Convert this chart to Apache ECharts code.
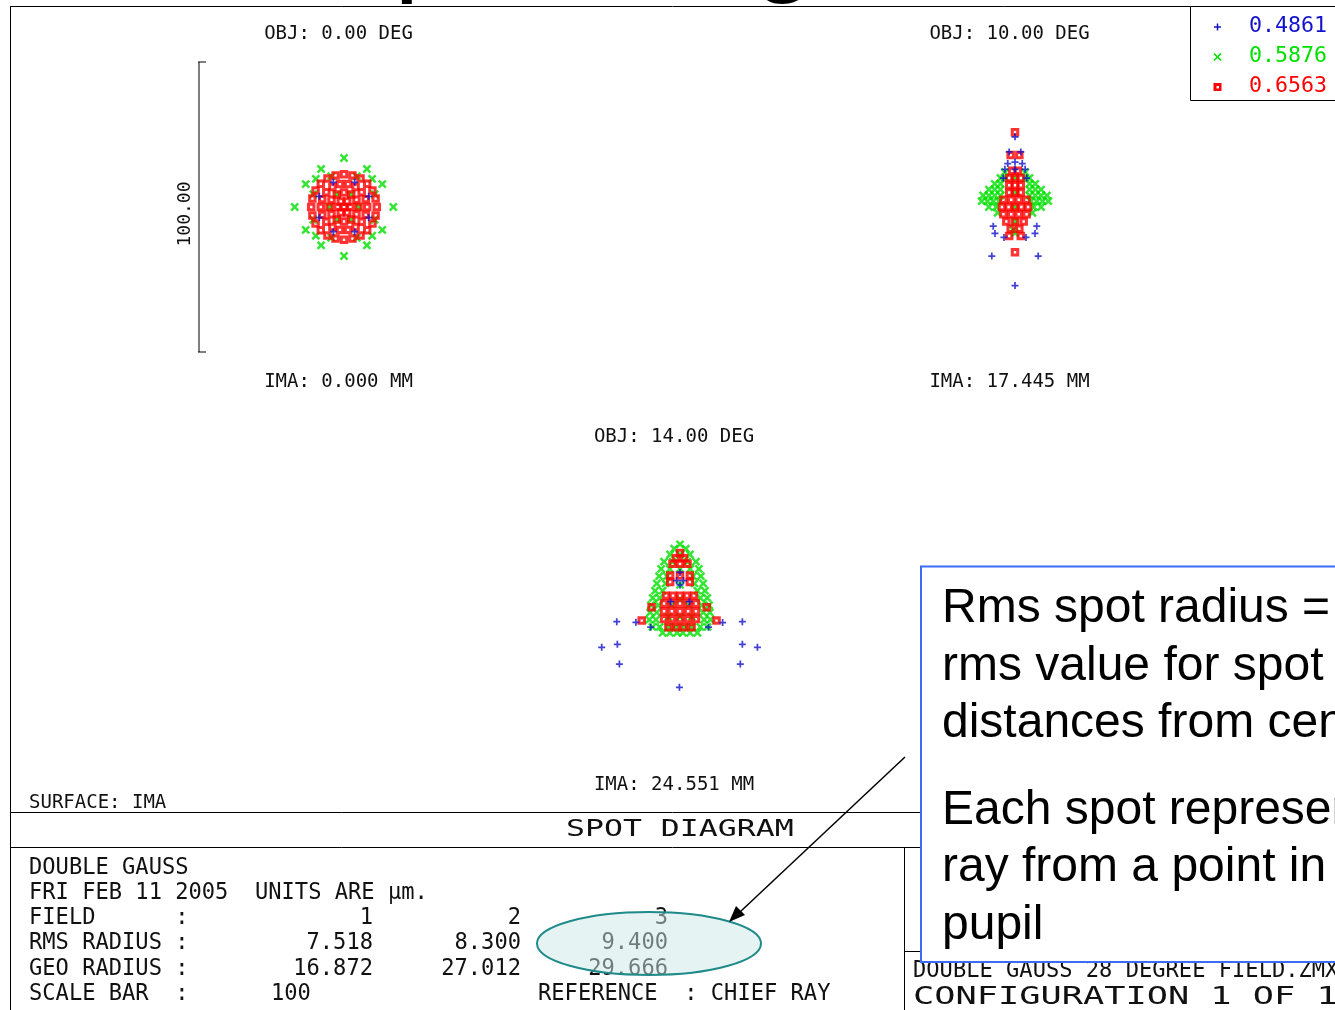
<!DOCTYPE html>
<html>
<head>
<meta charset="utf-8">
<script src="https://cdn.jsdelivr.net/npm/echarts@6/dist/echarts.min.js"></script>
<style>
html,body{margin:0;padding:0;background:#fff;}
#chart{width:1335px;height:1010px;}
</style>
</head>
<body>
<div id="chart"></div>
<script>
// ---------------- DATA (µm, relative to chief ray) ----------------
const objDeg = [0, 10, 14];
const imaMM = [0.000, 17.445, 24.551];
const fieldNo = [1, 2, 3];
const rmsRadius = [7.518, 8.300, 9.400];
const geoRadius = [16.872, 27.012, 29.666];
const wavelengths = [0.4861, 0.5876, 0.6563];
const scaleBarUm = 100;

// Field 1 (0 deg)
const f1Blue = [[8.5,3.7],[3.7,8.5],[-3.7,8.5],[-8.5,3.7],[-8.5,-3.7],[-3.7,-8.5],[3.7,-8.5],[8.5,-3.7]];
const f1Green = [[0,16.9],[0,-16.9],[-17,0],[17,0],[-7.9,13.1],[7.9,13.1],[-13.2,7.9],[13.2,7.9],
  [-13.2,-7.9],[13.2,-7.9],[-7.9,-13.2],[7.9,-13.2],[-9.7,9.7],[9.7,9.7],[-9.7,-9.9],[9.7,-9.9],
  [10.6,4.4],[4.4,10.6],[-4.4,10.6],[-10.6,4.4],[-10.6,-4.4],[-4.4,-10.6],[4.4,-10.6],[10.6,-4.4],
  [5,0],[2.5,4.3],[-2.5,4.3],[-5,0],[-2.5,-4.3],[2.5,-4.3]];
const f1Red = [[11.3,0],[10.9,2.9],[9.8,5.7],[8.0,8.0],[5.7,9.8],[2.9,10.9],[0,11.3],[-2.9,10.9],
  [-5.7,9.8],[-8.0,8.0],[-9.8,5.7],[-10.9,2.9],[-11.3,0],[-10.9,-2.9],[-9.8,-5.7],[-8.0,-8.0],
  [-5.7,-9.8],[-2.9,-10.9],[0,-11.3],[2.9,-10.9],[5.7,-9.8],[8.0,-8.0],[9.8,-5.7],[10.9,-2.9],
  [8,0],[7.5,2.7],[6.1,5.1],[4,6.9],[1.4,7.9],[-1.4,7.9],[-4,6.9],[-6.1,5.1],[-7.5,2.7],
  [-8,0],[-7.5,-2.7],[-6.1,-5.1],[-4,-6.9],[-1.4,-7.9],[1.4,-7.9],[4,-6.9],[6.1,-5.1],[7.5,-2.7],
  [5,0],[4.3,2.5],[2.5,4.3],[0,5],[-2.5,4.3],[-4.3,2.5],[-5,0],[-4.3,-2.5],[-2.5,-4.3],[0,-5],[2.5,-4.3],[4.3,-2.5],
  [2.2,0],[1.1,1.9],[-1.1,1.9],[-2.2,0],[-1.1,-1.9],[1.1,-1.9],[0,0]];

// Field 2 (10 deg)
const f2Blue = [[0,24.2],[-2,19],[2,19],[-2.5,15],[0,15.5],[2.5,15],[-3.5,13],[3.5,13],[0,13],[-4,10],[4,10],
  [-7.5,-6.6],[7.5,-6.6],[-6.9,-9.1],[6.9,-9.1],[-3.8,-10.5],[3.8,-10.5],[-8,-16.9],[8,-16.9],[0,-27.1]];
const f2Green = [[-3.5,12],[3.5,12],[-5,10],[-3.5,10],[3.5,10],[5,10],[-7,8],[-5,8],[5,8],[7,8],
  [-9,6],[-7,6],[-5,6],[5,6],[7,6],[9,6],[-11,4],[-9,4],[-7,4],[-5,4],[5,4],[7,4],[9,4],[11,4],
  [-11.5,2],[-9.5,2],[-7.5,2],[-5.5,2],[5.5,2],[7.5,2],[9.5,2],[11.5,2],[-9,0],[-6.5,0],[6.5,0],[9,0],
  [-6,-2],[6,-2],[0,10],[0,5],[0,0],[0,-5],[-0.6,-8],[0,-9]];
const f2Red = [[0,25.8],[-1.5,17.9],[1.5,17.9],[-1,12.5],[1,12.5],[-2,10],[0,10],[2,10],
  [-2,7.5],[0,7.5],[2,7.5],[-2,5],[0,5],[2,5],[-4,2.5],[-1.3,2.5],[1.3,2.5],[4,2.5],
  [-4.5,0],[-2.2,0],[0,0],[2.2,0],[4.5,0],[-4,-2.5],[-1.3,-2.5],[1.3,-2.5],[4,-2.5],
  [-3,-5],[0,-5],[3,-5],[-1.5,-7.5],[1.5,-7.5],[-2,-10],[2,-10],[0,-15.6]];

// Field 3 (14 deg)
const f3Blue = [[0,13.3],[-1.2,10.5],[1.2,10.5],[0,9],[-3.2,3.2],[3.2,3.2],[-10.1,-5.6],[9.8,-5.6],
  [-15.2,-3.9],[14.7,-4],[-21.8,-3.7],[21.5,-3.7],[-27,-12.5],[26.7,-12.5],[-21.6,-11.5],[21.5,-11.5],
  [-20.9,-18.3],[20.8,-18.3],[-0.2,-26.3]];
const f3Green = [[0,23],[-2,21.5],[2,21.5],[-3.4,19.5],[0,19.5],[3.4,19.5],[-5.5,17],[-2.5,17],[2.5,17],[5.5,17],
  [-6.5,14.5],[-3.5,14.5],[0,14.5],[3.5,14.5],[6.5,14.5],[-7.2,12],[-4.5,12],[4.5,12],[7.2,12],
  [-8,9.5],[-5,9.5],[5,9.5],[8,9.5],[-8.6,7],[-6,7],[6,7],[8.6,7],[-9.4,4.5],[-7,4.5],[7,4.5],[9.4,4.5],
  [-10,2],[-7.5,2],[7.5,2],[10,2],[-10.3,-0.5],[-8,-0.5],[8,-0.5],[10.3,-0.5],
  [-10.6,-3],[-8.3,-3],[8.3,-3],[10.5,-3],
  [-9.5,-5.5],[-7,-5.5],[-4,-5.5],[-1.5,-5.5],[1.5,-5.5],[4,-5.5],[7,-5.5],[9.5,-5.5],
  [-6,-7.5],[-3.5,-7.5],[-1,-7.5],[1,-7.5],[3.5,-7.5],[6,-7.5],
  [0,9],[0,4],[-3,2],[3,2],[0,-2],[-4,-2],[4,-2]];
const f3Red = [[0,20],[-1.4,18.2],[1.4,18.2],[-2.6,16.3],[0,16.3],[2.6,16.3],
  [-3.4,12.2],[0,12.2],[3.4,12.2],[-3.4,10],[3.4,10],
  [-4.8,5.3],[-2.4,5.3],[0,5.3],[2.4,5.3],[4.8,5.3],
  [-5.5,2.6],[-2.8,2.6],[0,2.6],[2.8,2.6],[5.5,2.6],
  [-5.5,-0.1],[-2.8,-0.1],[0,-0.1],[2.8,-0.1],[5.5,-0.1],
  [-5.5,-2.8],[-2.8,-2.8],[0,-2.8],[2.8,-2.8],[5.5,-2.8],
  [-4,-5.6],[-1.3,-5.6],[1.3,-5.6],[4,-5.6],
  [-9.8,1.3],[9.2,1.3],[-13.2,-3.3],[12.6,-3.3]];

const fieldBlue = [f1Blue, f2Blue, f3Blue];
const fieldGreen = [f1Green, f2Green, f3Green];
const fieldRed = [f1Red, f2Red, f3Red];

// ---------------- STYLE / LAYOUT ----------------
const BLUE = '#1212cc', GREEN = '#00e000', RED = '#ff0000';
const PLUS = 'path://M3,0H5V3H8V5H5V8H3V5H0V3H3Z';
const SQ = 'path://M0,0H10V10H0Z M3.6,3.6V6.4H6.4V3.6Z';
const MONO = '"DejaVu Sans Mono", "Liberation Mono", monospace';

const grids = [
  {left:199, top:62, width:290, height:290},
  {left:870, top:62, width:290, height:290},
  {left:535, top:466, width:290, height:290}
];

const series = [];
for (let i = 0; i < 3; i++) {
  series.push({type:'scatter', name:String(wavelengths[1]), xAxisIndex:i, yAxisIndex:i, data:fieldGreen[i],
    symbol:PLUS, symbolRotate:45, symbolSize:10, itemStyle:{color:GREEN}, silent:true, z:2});
  series.push({type:'scatter', name:String(wavelengths[2]), xAxisIndex:i, yAxisIndex:i, data:fieldRed[i],
    symbol:SQ, symbolSize:8.5, itemStyle:{color:RED}, silent:true, z:3});
  series.push({type:'scatter', name:String(wavelengths[0]), xAxisIndex:i, yAxisIndex:i, data:fieldBlue[i],
    symbol:PLUS, symbolSize:7, itemStyle:{color:BLUE}, silent:true, z:4});
}
// scale bar drawn in field-1 axes (µm)
const half = scaleBarUm / 2;
const tickHalf = 2.4;
const sbStyle = {type:'line', xAxisIndex:0, yAxisIndex:0, symbol:'none', clip:false, silent:true,
  lineStyle:{color:'#000', width:1}, z:5};
series.push(Object.assign({}, sbStyle, {data:[[-half,-half],[-half,half]]}));
series.push(Object.assign({}, sbStyle, {data:[[-half-tickHalf,half],[-half+tickHalf,half]]}));
series.push(Object.assign({}, sbStyle, {data:[[-half-tickHalf,-half],[-half+tickHalf,-half]]}));

// ---------------- GRAPHIC ----------------
const G = [];
function txt(s, x, y, o) {
  o = o || {};
  G.push({type:'text', x:x, y:y, scaleX:o.sx || 1, rotation:o.rot || 0, z:o.z || 1, silent:true,
    style:{text:s, font:o.font || ('19px ' + MONO), fill:o.fill || '#111',
      align:o.align || 'left', verticalAlign:'middle',
      textAlign:o.align || 'left', textVerticalAlign:'middle'}});
}
function ln(x1, y1, x2, y2, o) {
  o = o || {};
  G.push({type:'line', z:o.z || 1, silent:true, shape:{x1:x1, y1:y1, x2:x2, y2:y2},
    style:{stroke:o.stroke || '#000', lineWidth:o.w || 1}});
}

// clipped slide title at the very top
txt('Spot Diagram', 319, -51, {font:'113px "Liberation Sans", Arial, sans-serif', fill:'#000', z:0});

// frame
ln(10, 6.5, 1335, 6.5);
ln(10.5, 6, 10.5, 1010);
ln(10, 812.5, 1335, 812.5);
ln(10, 847.5, 1335, 847.5);
ln(904.5, 847, 904.5, 1010);
ln(904, 951.5, 1335, 951.5);

// field labels
const labelCx = [338.5, 1009.5, 674];
const objY = [34, 34, 437];
const imaY = [382, 382, 785];
for (let i = 0; i < 3; i++) {
  txt('OBJ: ' + objDeg[i].toFixed(2) + ' DEG', labelCx[i], objY[i], {align:'center'});
  txt('IMA: ' + imaMM[i].toFixed(3) + ' MM', labelCx[i], imaY[i], {align:'center'});
}
txt(scaleBarUm.toFixed(2), 185, 214, {align:'center', rot:Math.PI/2, font:'18px ' + MONO});
txt('SURFACE: IMA', 29, 803);

// title bar
txt('SPOT DIAGRAM', 566, 830, {font:'23px ' + MONO, sx:1.37});

// table
const TF = '23px ' + MONO, TS = 0.96;
const rowY = [868, 893, 918, 943, 969, 994];
const colX = [373, 521, 668];
txt('DOUBLE GAUSS', 29, rowY[0], {font:TF, sx:TS});
txt('FRI FEB 11 2005  UNITS ARE µm.', 29, rowY[1], {font:TF, sx:TS});
txt('FIELD      :', 29, rowY[2], {font:TF, sx:TS});
txt('RMS RADIUS :', 29, rowY[3], {font:TF, sx:TS});
txt('GEO RADIUS :', 29, rowY[4], {font:TF, sx:TS});
txt('SCALE BAR  :', 29, rowY[5], {font:TF, sx:TS});
for (let i = 0; i < 3; i++) {
  txt(String(fieldNo[i]), colX[i], rowY[2], {font:TF, sx:TS, align:'right'});
  txt(rmsRadius[i].toFixed(3), colX[i], rowY[3], {font:TF, sx:TS, align:'right'});
  txt(geoRadius[i].toFixed(3), colX[i], rowY[4], {font:TF, sx:TS, align:'right'});
}
txt(String(scaleBarUm), 271, rowY[5], {font:TF, sx:TS});
txt('REFERENCE  : CHIEF RAY', 538, rowY[5], {font:TF, sx:TS});

// bottom right
txt('DOUBLE GAUSS 28 DEGREE FIELD.ZMX', 913, 971, {font:TF, sx:TS});
txt('CONFIGURATION 1 OF 1', 913, 998, {font:'24px ' + MONO, sx:1.47});

// legend box
G.push({type:'rect', z:1, silent:true, shape:{x:1190.5, y:6.5, width:200, height:94},
  style:{fill:'#fff', stroke:'#000', lineWidth:1}});
const legY = [27, 57, 87];
const legCol = [BLUE, GREEN, RED];
// + symbol
G.push({type:'rect', z:2, silent:true, shape:{x:1214, y:legY[0]-0.75, width:7, height:1.5}, style:{fill:BLUE}});
G.push({type:'rect', z:2, silent:true, shape:{x:1216.75, y:legY[0]-3.5, width:1.5, height:7}, style:{fill:BLUE}});
// x symbol
G.push({type:'group', x:1217.5, y:legY[1], rotation:Math.PI/4, z:2, children:[
  {type:'rect', z:3, silent:true, shape:{x:-5, y:-0.8, width:10, height:1.6}, style:{fill:GREEN}},
  {type:'rect', z:3, silent:true, shape:{x:-0.8, y:-5, width:1.6, height:10}, style:{fill:GREEN}}]});
// square symbol
G.push({type:'rect', z:2, silent:true, shape:{x:1213.5, y:legY[2]-4, width:8, height:8}, style:{fill:RED}});
G.push({type:'rect', z:3, silent:true, shape:{x:1216.5, y:legY[2]-1, width:2.5, height:2.5}, style:{fill:'#fff'}});
for (let i = 0; i < 3; i++) {
  txt(wavelengths[i].toFixed(4), 1249, legY[i], {font:'21px ' + MONO, sx:1.03, fill:legCol[i], z:2});
}

// highlight ellipse + arrow
G.push({type:'ellipse', z:5, silent:true, shape:{cx:649, cy:943.5, rx:112, ry:31.5},
  style:{fill:'rgba(205,232,232,0.5)', stroke:'#1f8a8a', lineWidth:2}});
ln(905, 757, 740, 912, {w:1.5, z:6});
G.push({type:'polygon', z:6, silent:true, shape:{points:[[729,922],[745,915],[736,906]]}, style:{fill:'#000'}});

// annotation box
G.push({type:'rect', z:10, silent:true, shape:{x:921, y:566.5, width:450, height:395.5},
  style:{fill:'#fff', stroke:'#3b6cf6', lineWidth:2}});
const AF = '48px "Liberation Sans", Arial, sans-serif';
const noteLines = ['Rms spot radius =', 'rms value for spot', 'distances from centroid',
  'Each spot represents a', 'ray from a point in', 'pupil'];
const noteY = [609, 667, 724, 811, 868, 926];
for (let i = 0; i < noteLines.length; i++) {
  txt(noteLines[i], 942, noteY[i], {font:AF, fill:'#000', z:11});
}

const chart = echarts.init(document.getElementById('chart'), null, {renderer:'canvas'});
chart.setOption({
  animation:false,
  backgroundColor:'#ffffff',
  grid:grids,
  xAxis:[0,1,2].map(i => ({gridIndex:i, type:'value', min:-half, max:half, show:false})),
  yAxis:[0,1,2].map(i => ({gridIndex:i, type:'value', min:-half, max:half, show:false})),
  series:series,
  graphic:{elements:G}
});
</script>
</body>
</html>
